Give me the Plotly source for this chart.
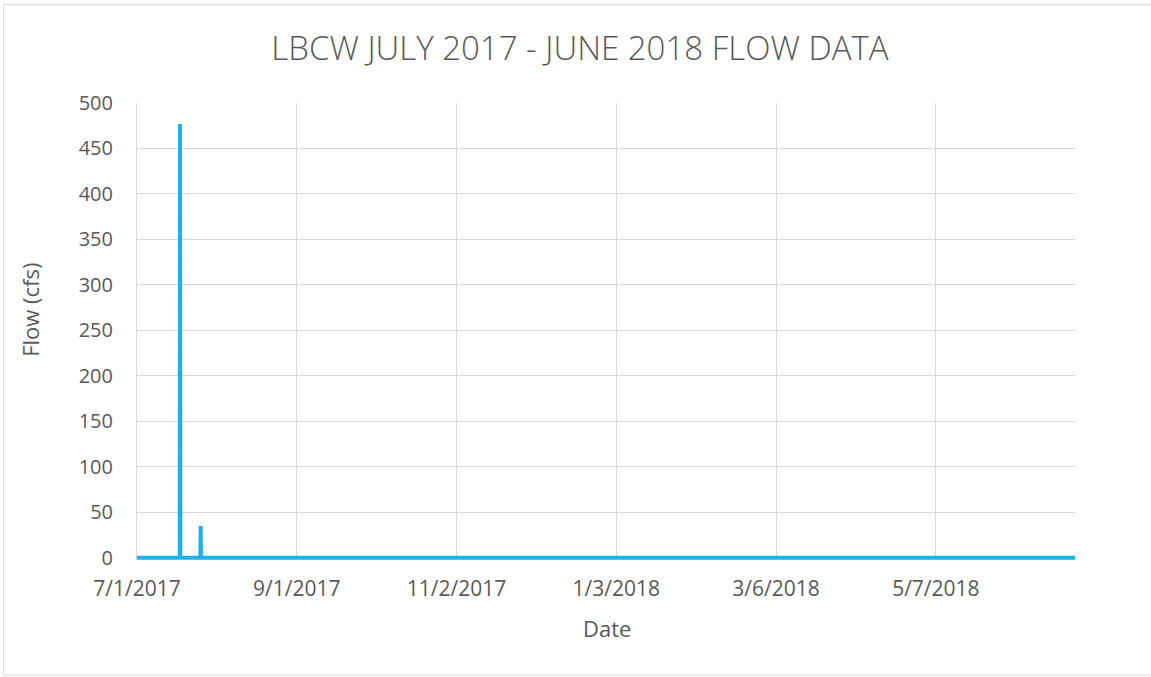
import plotly.graph_objects as go

# ---- data ----
dates = ["2017-07-01", "2017-07-17 14:00", "2017-07-17 17:00", "2017-07-17 20:00",
         "2017-07-25 14:00", "2017-07-25 17:00", "2017-07-25 20:00", "2018-06-30"]
flow = [0, 0, 477, 0, 0, 35, 0, 0]

x_tick_vals = ["2017-07-01", "2017-09-01", "2017-11-02", "2018-01-03", "2018-03-06", "2018-05-07"]
x_tick_text = ["7/1/2017", "9/1/2017", "11/2/2017", "1/3/2018", "3/6/2018", "5/7/2018"]
y_tick_vals = [0, 50, 100, 150, 200, 250, 300, 350, 400, 450, 500]

title_text = "LBCW JULY 2017 - JUNE 2018 FLOW DATA"
x_title = "Date"
y_title = "Flow (cfs)"

# ---- layout geometry (page pixels; body margin removed by post_script) ----
W, H = 1151, 677
L, R, T, B = 137, 1075, 103, 560.3
ymin = -2.5

def xp(px):
    return (px - L) / (R - L)

def yp(py):
    return (B - py) / (B - T)

FONT = "Open Sans"
GRAY = "#595959"
GRID = "#D9D9D9"
BLUE = "#1FB0E6"

fig = go.Figure()
fig.add_trace(go.Scatter(
    x=dates, y=flow, mode="lines",
    line=dict(color=BLUE, width=4),
    hoverinfo="x+y", showlegend=False,
))

fig.update_layout(
    width=W, height=H,
    margin=dict(l=L, r=W - R, t=T, b=H - B, pad=0),
    paper_bgcolor="white", plot_bgcolor="white",
    title=dict(text=title_text, x=580 / W, xanchor="center", xref="container",
               y=1 - 48 / H, yanchor="middle", yref="container",
               font=dict(family=FONT, size=33, color=GRAY, weight=300)),
    xaxis=dict(type="date", range=["2017-07-01", "2018-06-30"],
               tickmode="array", tickvals=x_tick_vals, ticktext=x_tick_text,
               showgrid=True, gridcolor=GRID, gridwidth=1,
               showline=False, zeroline=False, ticks="",
               ticklabelstandoff=14,
               tickfont=dict(family=FONT, size=21, color=GRAY)),
    yaxis=dict(range=[ymin, 500], tickmode="array", tickvals=y_tick_vals,
               showgrid=True, gridcolor=GRID, gridwidth=1,
               showline=True, linecolor=GRID, linewidth=1,
               zeroline=False, ticks="", ticklabelstandoff=19,
               tickfont=dict(family=FONT, size=20, color=GRAY)),
    annotations=[
        dict(text=x_title, x=xp(607), y=yp(628), xref="paper", yref="paper",
             xanchor="center", yanchor="middle", showarrow=False,
             font=dict(family=FONT, size=22, color=GRAY)),
        dict(text=y_title, x=xp(30), y=yp(310), xref="paper", yref="paper",
             xanchor="center", yanchor="middle", showarrow=False, textangle=-90,
             font=dict(family=FONT, size=22, color=GRAY)),
    ],
    shapes=[
        dict(type="rect", xref="paper", yref="paper",
             x0=xp(3.5), x1=xp(1170), y0=yp(675.5), y1=yp(4.5),
             line=dict(color=GRID, width=1), fillcolor="rgba(0,0,0,0)", layer="below"),
    ],
)

fig.write_html("out.html", config={"displayModeBar": False},
               post_script="document.body.style.margin='0';document.body.style.overflow='hidden';")
